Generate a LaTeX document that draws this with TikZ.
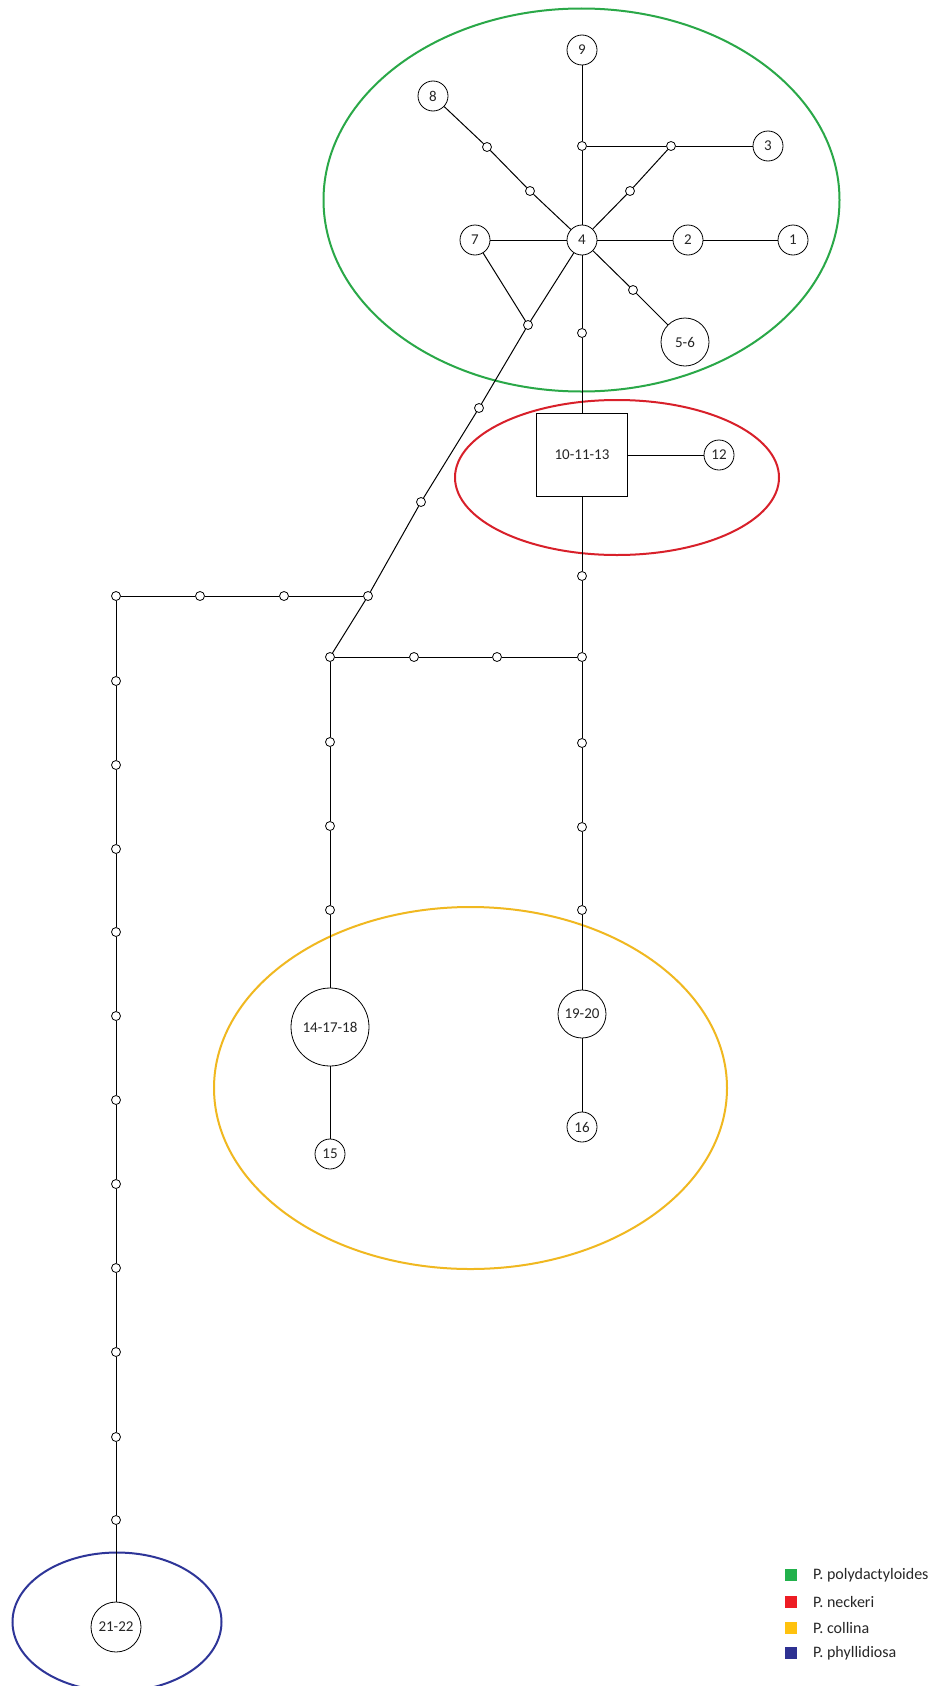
\documentclass[tikz,border=0pt]{standalone}
\usepackage{fontspec}
\setmainfont{Carlito}
\definecolor{cgreen}{HTML}{2AA848}
\definecolor{cred}{HTML}{D8202A}
\definecolor{cyellow}{HTML}{F0B820}
\definecolor{cblue}{HTML}{2E3598}
\definecolor{lgreen}{HTML}{22B14C}
\definecolor{lred}{HTML}{ED1C24}
\definecolor{lyellow}{HTML}{FFC20E}
\definecolor{lblue}{HTML}{2E3192}
\begin{document}
\begin{tikzpicture}[x=1pt,y=-1pt,
  hap/.style={circle,draw,fill=white,line width=0.8pt,inner sep=0pt,minimum size=30pt,font=\fontsize{15}{17}\selectfont,text=black!85},
  med/.style={circle,draw,fill=white,line width=0.8pt,inner sep=0pt,minimum size=9pt},
  hapbox/.style={rectangle,draw,fill=white,line width=0.9pt,inner sep=0pt,minimum width=91pt,minimum height=83pt,font=\fontsize{15}{17}\selectfont,text=black!85},
  grp/.style={line width=2pt},
  edge/.style={line width=1pt},
  leg/.style={anchor=west,font=\fontsize{16}{18}\selectfont,text=black!85,inner sep=0pt},
  legsq/.style={inner sep=0pt,minimum size=12pt}]
\useasboundingbox (0,0) rectangle (938,1686);
\fill[white] (0,0) rectangle (938,1686);
% group ellipses
\draw[grp,cgreen] (581.5,200) ellipse [x radius=258pt, y radius=191.5pt];
\draw[grp,cred] (617,477.5) ellipse [x radius=162pt, y radius=77.5pt];
\draw[grp,cyellow] (470.5,1088) ellipse [x radius=256.5pt, y radius=181pt];
\draw[grp,cblue] (117,1622) ellipse [x radius=104.5pt, y radius=69.5pt];
% haplotypes
\node[hap] (h9) at (582,50) {9};
\node[hap] (h8) at (433,96) {8};
\node[hap] (h3) at (768,146) {3};
\node[hap] (h4) at (582,240) {4};
\node[hap] (h7) at (475,240) {7};
\node[hap] (h2) at (688,240) {2};
\node[hap] (h1) at (793,240) {1};
\node[hap,minimum size=48pt] (h56) at (685,342) {5-6};
\node[hapbox] (box) at (582,455) {10-11-13};
\node[hap] (h12) at (719,455) {12};
\node[hap,minimum size=78pt] (h14) at (330,1027) {14-17-18};
\node[hap] (h15) at (330,1154) {15};
\node[hap,minimum size=48pt] (h1920) at (582,1014) {19-20};
\node[hap] (h16) at (582,1127) {16};
\node[hap,minimum size=50pt] (h2122) at (116,1627) {21-22};
% median vectors
\node[med] (m1) at (582,146) {};
\node[med] (m2) at (671,146) {};
\node[med] (m3) at (630,191) {};
\node[med] (m4) at (487,147) {};
\node[med] (m5) at (530,191) {};
\node[med] (m6) at (633,290) {};
\node[med] (m7) at (528,325) {};
\node[med] (m8) at (582,333) {};
\node[med] (m9) at (479,408) {};
\node[med] (m10) at (421,502) {};
\node[med] (m11) at (368,596) {};
\node[med] (m12) at (330,657) {};
\node[med] (m13) at (284,596) {};
\node[med] (m14) at (200,596) {};
\node[med] (m15) at (116,596) {};
\node[med] (m16) at (116,681) {};
\node[med] (m17) at (116,765) {};
\node[med] (m18) at (116,849) {};
\node[med] (m19) at (116,932) {};
\node[med] (m20) at (116,1016) {};
\node[med] (m21) at (116,1100) {};
\node[med] (m22) at (116,1184) {};
\node[med] (m23) at (116,1268) {};
\node[med] (m24) at (116,1352) {};
\node[med] (m25) at (116,1437) {};
\node[med] (m26) at (116,1520) {};
\node[med] (m27) at (414,657) {};
\node[med] (m28) at (497,657) {};
\node[med] (m29) at (582,657) {};
\node[med] (m30) at (582,576) {};
\node[med] (m31) at (582,743) {};
\node[med] (m32) at (582,827) {};
\node[med] (m33) at (582,910) {};
\node[med] (m34) at (330,742) {};
\node[med] (m35) at (330,826) {};
\node[med] (m36) at (330,910) {};
% edges
\draw[edge] (h9) -- (m1) -- (h4);
\draw[edge] (m1) -- (m2) -- (h3);
\draw[edge] (m2) -- (m3) -- (h4);
\draw[edge] (h8) -- (m4) -- (m5) -- (h4);
\draw[edge] (h7) -- (h4);
\draw[edge] (h4) -- (h2) -- (h1);
\draw[edge] (h4) -- (m6) -- (h56);
\draw[edge] (h7) -- (m7);
\draw[edge] (h4) -- (m7);
\draw[edge] (h4) -- (m8) -- (box);
\draw[edge] (box) -- (h12);
\draw[edge] (m7) -- (m9) -- (m10) -- (m11) -- (m12);
\draw[edge] (m11) -- (m13) -- (m14) -- (m15);
\draw[edge] (m15) -- (m16) -- (m17) -- (m18) -- (m19) -- (m20) -- (m21) -- (m22) -- (m23) -- (m24) -- (m25) -- (m26) -- (h2122);
\draw[edge] (m12) -- (m27) -- (m28) -- (m29);
\draw[edge] (box) -- (m30) -- (m29) -- (m31) -- (m32) -- (m33) -- (h1920) -- (h16);
\draw[edge] (m12) -- (m34) -- (m35) -- (m36) -- (h14) -- (h15);
% legend
\node[legsq,fill=lgreen] (s1) at (791,1575) {};
\node[legsq,fill=lred] (s2) at (791,1602) {};
\node[legsq,fill=lyellow] (s3) at (791,1628) {};
\node[legsq,fill=lblue] (s4) at (791,1653) {};
\node[leg] (t1) at (813,1575) {P. polydactyloides};
\node[leg] (t2) at (813,1602) {P. neckeri};
\node[leg] (t3) at (813,1628) {P. collina};
\node[leg] (t4) at (813,1653) {P. phyllidiosa};
\end{tikzpicture}
\end{document}
